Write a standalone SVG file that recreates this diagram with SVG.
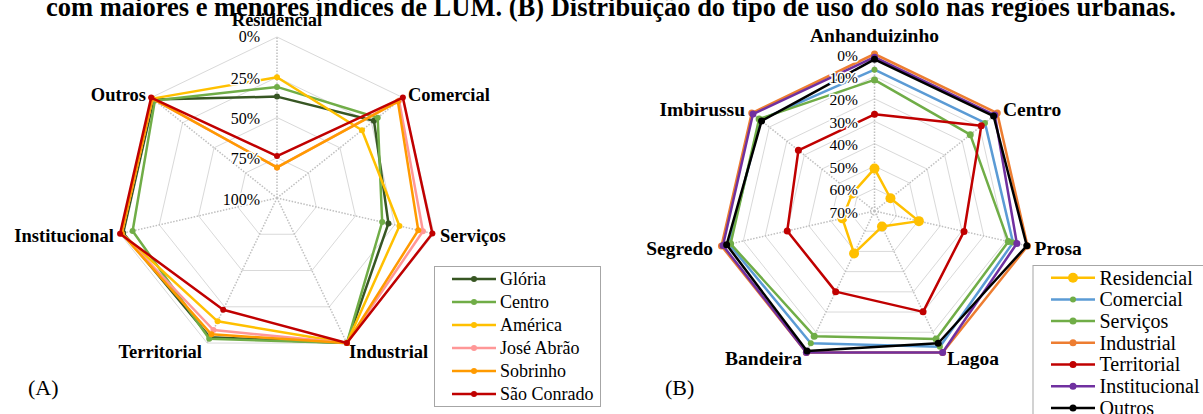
<svg xmlns="http://www.w3.org/2000/svg" width="1203" height="414" viewBox="0 0 1203 414">
<style>
text{font-family:"Liberation Serif","Times New Roman",serif;fill:#000}
.title{font-size:26.5px;font-weight:bold}
.cat{font-size:18.5px;font-weight:bold}
.catB{font-size:19.5px;font-weight:bold}
.tick{font-size:16px;paint-order:stroke;stroke:#fff;stroke-width:3px;stroke-linejoin:round}
.tickB{font-size:15.5px;paint-order:stroke;stroke:#fff;stroke-width:3px;stroke-linejoin:round}
.lgA{font-size:18px}
.lgB{font-size:20px}
.panel{font-size:22px}
.ring{fill:none;stroke:#d9d9d9;stroke-width:1}
.spoke{stroke:#bfbfbf;stroke-width:1.5;stroke-dasharray:1.5 1.5}
.ln{fill:none;stroke-width:2.5;stroke-linejoin:round}
.box{fill:#fff;stroke:#a6a6a6;stroke-width:1}
</style>
<defs>
<marker id="m-gl" viewBox="-6 -6 12 12" markerWidth="12" markerHeight="12" markerUnits="userSpaceOnUse"><circle r="3" fill="#375623"/></marker>
<marker id="m-ce" viewBox="-6 -6 12 12" markerWidth="12" markerHeight="12" markerUnits="userSpaceOnUse"><circle r="3" fill="#70AD47"/></marker>
<marker id="m-am" viewBox="-6 -6 12 12" markerWidth="12" markerHeight="12" markerUnits="userSpaceOnUse"><circle r="3" fill="#FFC000"/></marker>
<marker id="m-ja" viewBox="-6 -6 12 12" markerWidth="12" markerHeight="12" markerUnits="userSpaceOnUse"><circle r="3" fill="#FF9797"/></marker>
<marker id="m-so" viewBox="-6 -6 12 12" markerWidth="12" markerHeight="12" markerUnits="userSpaceOnUse"><circle r="3" fill="#FF9A00"/></marker>
<marker id="m-sc" viewBox="-6 -6 12 12" markerWidth="12" markerHeight="12" markerUnits="userSpaceOnUse"><circle r="3" fill="#C00000"/></marker>
<marker id="m-res" viewBox="-6 -6 12 12" markerWidth="12" markerHeight="12" markerUnits="userSpaceOnUse"><circle r="5" fill="#FFC000"/></marker>
<marker id="m-com" viewBox="-6 -6 12 12" markerWidth="12" markerHeight="12" markerUnits="userSpaceOnUse"><circle r="3" fill="#70AD47"/></marker>
<marker id="m-ser" viewBox="-6 -6 12 12" markerWidth="12" markerHeight="12" markerUnits="userSpaceOnUse"><circle r="3.5" fill="#70AD47"/></marker>
<marker id="m-ind" viewBox="-6 -6 12 12" markerWidth="12" markerHeight="12" markerUnits="userSpaceOnUse"><circle r="3.5" fill="#ED7D31"/></marker>
<marker id="m-ter" viewBox="-6 -6 12 12" markerWidth="12" markerHeight="12" markerUnits="userSpaceOnUse"><circle r="3.5" fill="#C00000"/></marker>
<marker id="m-ins" viewBox="-6 -6 12 12" markerWidth="12" markerHeight="12" markerUnits="userSpaceOnUse"><circle r="3.5" fill="#7030A0"/></marker>
<marker id="m-out" viewBox="-6 -6 12 12" markerWidth="12" markerHeight="12" markerUnits="userSpaceOnUse"><circle r="3.5" fill="#000"/></marker>
</defs>
<rect width="1203" height="414" fill="#fff"/>
<text class="title" x="46" y="15.5">com maiores e menores índices de LUM. (B) Distribuição do tipo de uso do solo nas regiões urbanas.</text>

<!-- Chart A -->
<g id="chartA-grid">
<polygon class="ring" points="277,37 402.87,97.62 433.96,233.83 346.85,343.06 207.15,343.06 120.04,233.83 151.13,97.62"/>
<polygon class="ring" points="277,77.25 371.41,122.71 394.72,224.87 329.39,306.79 224.61,306.79 159.28,224.87 182.59,122.71"/>
<polygon class="ring" points="277,117.5 339.94,147.81 355.48,215.91 311.93,270.53 242.07,270.53 198.52,215.91 214.06,147.81"/>
<polygon class="ring" points="277,157.75 308.47,172.9 316.24,206.96 294.46,234.26 259.54,234.26 237.76,206.96 245.53,172.9"/>
<path class="spoke" d="M277,198L277,37M277,198L402.87,97.62M277,198L433.96,233.83M277,198L346.85,343.06M277,198L207.15,343.06M277,198L120.04,233.83M277,198L151.13,97.62"/>
</g>
<g id="chartA-series">
<polygon class="ln" stroke="#375623" marker-start="url(#m-gl)" marker-mid="url(#m-gl)" points="277,96.6 373.95,120.69 388.43,223.43 346.85,343.06 209.92,337.29 123.16,233.11 153.63,99.61"/>
<polygon class="ln" stroke="#70AD47" marker-start="url(#m-ce)" marker-mid="url(#m-ce)" points="277,86.9 377.7,117.69 382.19,222.01 346.85,343.06 209.23,338.73 132.61,230.96 154.88,100.61"/>
<polygon class="ln" stroke="#FFC000" marker-start="url(#m-am)" marker-mid="url(#m-am)" points="277,77.25 361.98,130.23 399.45,225.95 346.85,343.06 217.6,321.34 121.6,233.47 152.38,98.62"/>
<polygon class="ln" stroke="#FF9797" marker-start="url(#m-ja)" marker-mid="url(#m-ja)" points="277,167.4 399.12,100.61 422.95,231.31 346.85,343.06 213.44,329.99 121.6,233.47 152.38,98.62"/>
<polygon class="ln" stroke="#FF9A00" marker-start="url(#m-so)" marker-mid="url(#m-so)" points="277,167.4 397.87,101.61 418.27,230.24 346.85,343.06 211.35,334.32 121.6,233.47 152.38,98.62"/>
<polygon class="ln" stroke="#C00000" marker-start="url(#m-sc)" marker-mid="url(#m-sc)" points="277,156.1 402.87,97.62 432.4,233.47 346.85,343.06 223.2,309.72 120.04,233.83 151.13,97.62"/>
</g>
<g id="chartA-ticks" text-anchor="end">
<text class="tick" x="260" y="42">0%</text>
<text class="tick" x="260" y="84">25%</text>
<text class="tick" x="260" y="124">50%</text>
<text class="tick" x="260" y="164">75%</text>
<text class="tick" x="260" y="205">100%</text>
</g>
<g id="chartA-labels">
<text class="cat" x="277" y="26" text-anchor="middle">Residencial</text>
<text class="cat" x="408" y="101">Comercial</text>
<text class="cat" x="440" y="242">Serviços</text>
<text class="cat" x="349" y="358">Industrial</text>
<text class="cat" x="202" y="358" text-anchor="end">Territorial</text>
<text class="cat" x="114" y="242" text-anchor="end">Institucional</text>
<text class="cat" x="146" y="101" text-anchor="end">Outros</text>
</g>
<g id="legendA">
<rect class="box" x="434.5" y="266.5" width="166" height="140"/>
<polyline class="ln" stroke="#375623" marker-mid="url(#m-gl)" points="452,279 474,279 496,279"/>
<polyline class="ln" stroke="#70AD47" marker-mid="url(#m-ce)" points="452,302 474,302 496,302"/>
<polyline class="ln" stroke="#FFC000" marker-mid="url(#m-am)" points="452,325 474,325 496,325"/>
<polyline class="ln" stroke="#FF9797" marker-mid="url(#m-ja)" points="452,348 474,348 496,348"/>
<polyline class="ln" stroke="#FF9A00" marker-mid="url(#m-so)" points="452,371 474,371 496,371"/>
<polyline class="ln" stroke="#C00000" marker-mid="url(#m-sc)" points="452,394 474,394 496,394"/>
<text class="lgA" x="500" y="285">Glória</text>
<text class="lgA" x="500" y="308">Centro</text>
<text class="lgA" x="500" y="331">América</text>
<text class="lgA" x="500" y="354">José Abrão</text>
<text class="lgA" x="500" y="377">Sobrinho</text>
<text class="lgA" x="500" y="400">São Conrado</text>
</g>
<text class="panel" x="28" y="395">(A)</text>

<!-- Chart B -->
<g id="chartB-grid">
<polygon class="ring" points="874.5,54 997.25,113.11 1027.56,245.94 942.62,352.45 806.38,352.45 721.44,245.94 751.75,113.11"/>
<polygon class="ring" points="874.5,76.43 979.71,127.1 1005.7,240.94 932.89,332.24 816.11,332.24 743.3,240.94 769.29,127.1"/>
<polygon class="ring" points="874.5,98.86 962.17,141.08 983.83,235.95 923.16,312.03 825.84,312.03 765.17,235.95 786.83,141.08"/>
<polygon class="ring" points="874.5,121.29 944.64,155.07 961.96,230.96 913.42,291.83 835.58,291.83 787.04,230.96 804.36,155.07"/>
<polygon class="ring" points="874.5,143.71 927.11,169.05 940.1,225.97 903.7,271.63 845.3,271.63 808.9,225.97 821.89,169.05"/>
<polygon class="ring" points="874.5,166.14 909.57,183.03 918.24,220.98 893.96,251.42 855.04,251.42 830.76,220.98 839.43,183.03"/>
<polygon class="ring" points="874.5,188.57 892.04,197.02 896.37,215.99 884.23,231.21 864.77,231.21 852.63,215.99 856.96,197.02"/>
<path class="spoke" d="M874.5,211L874.5,54M874.5,211L997.25,113.11M874.5,211L1027.56,245.94M874.5,211L942.62,352.45M874.5,211L806.38,352.45M874.5,211L721.44,245.94M874.5,211L751.75,113.11"/>
<circle cx="874.5" cy="211" r="4" fill="none" stroke="#bfbfbf" stroke-width="1.2" stroke-dasharray="1.5 1.5"/>
</g>
<g id="chartB-series">
<polygon class="ln" stroke="#FFC000" stroke-width="3" marker-start="url(#m-res)" marker-mid="url(#m-res)" points="874.5,168.61 890.46,198.27 918.89,221.13 881.99,226.56 854.06,253.44 842.36,218.34 852.41,193.38"/>
<polygon class="ln" stroke="#5B9BD5" stroke-width="4" marker-start="url(#m-com)" marker-mid="url(#m-com)" points="874.5,69.7 984.97,122.9 1013.03,242.62 939.89,346.79 810.81,343.26 729.09,244.19 760.34,119.96"/>
<polygon class="ln" stroke="#70AD47" marker-start="url(#m-ser)" marker-mid="url(#m-ser)" points="874.5,79.9 970.24,134.65 1008.44,241.57 936.15,339.02 814.21,336.19 730.62,243.84 759.12,118.98"/>
<polygon class="ln" stroke="#ED7D31" stroke-width="3" marker-start="url(#m-ind)" marker-mid="url(#m-ind)" points="874.5,54 997.25,113.11 1027.56,245.94 942.62,352.45 806.38,352.45 721.44,245.94 751.75,113.11"/>
<polygon class="ln" stroke="#C00000" marker-start="url(#m-ter)" marker-mid="url(#m-ter)" points="874.5,114.29 981.29,125.84 964.05,231.44 923.07,311.85 835.67,291.63 787.25,230.91 798.4,150.31"/>
<polygon class="ln" stroke="#7030A0" marker-start="url(#m-ins)" marker-mid="url(#m-ins)" points="874.5,57.14 994.79,115.07 1016.85,243.49 942.62,352.45 806.38,352.45 722.97,245.59 752.98,114.09"/>
<polygon class="ln" stroke="#000" marker-start="url(#m-out)" marker-mid="url(#m-out)" points="874.5,59.34 993.56,116.05 1026.8,245.76 938.19,343.26 807.06,351.04 726.64,244.75 761.57,120.94"/>
</g>
<g id="chartB-ticks" text-anchor="end">
<text class="tickB" x="858" y="60.5">0%</text>
<text class="tickB" x="858" y="82.9">10%</text>
<text class="tickB" x="858" y="105.4">20%</text>
<text class="tickB" x="858" y="127.8">30%</text>
<text class="tickB" x="858" y="150.2">40%</text>
<text class="tickB" x="858" y="172.6">50%</text>
<text class="tickB" x="858" y="195.1">60%</text>
<text class="tickB" x="858" y="217.5">70%</text>
</g>
<g id="chartB-labels">
<text class="catB" x="874.5" y="41.5" text-anchor="middle">Anhanduizinho</text>
<text class="catB" x="1003" y="116">Centro</text>
<text class="catB" x="1034.5" y="254.5">Prosa</text>
<text class="catB" x="947" y="364.5">Lagoa</text>
<text class="catB" x="802" y="364.5" text-anchor="end">Bandeira</text>
<text class="catB" x="713" y="254.5" text-anchor="end">Segredo</text>
<text class="catB" x="745" y="116" text-anchor="end">Imbirussu</text>
</g>
<g id="legendB">
<rect class="box" x="1033" y="265.5" width="180" height="160"/>
<polyline class="ln" stroke="#FFC000" stroke-width="3" marker-mid="url(#m-res)" points="1051,277.7 1073,277.7 1095,277.7"/>
<polyline class="ln" stroke="#5B9BD5" stroke-width="4" marker-mid="url(#m-com)" points="1051,299.4 1073,299.4 1095,299.4"/>
<polyline class="ln" stroke="#70AD47" marker-mid="url(#m-ser)" points="1051,321.1 1073,321.1 1095,321.1"/>
<polyline class="ln" stroke="#ED7D31" stroke-width="3" marker-mid="url(#m-ind)" points="1051,342.8 1073,342.8 1095,342.8"/>
<polyline class="ln" stroke="#C00000" marker-mid="url(#m-ter)" points="1051,364.5 1073,364.5 1095,364.5"/>
<polyline class="ln" stroke="#7030A0" marker-mid="url(#m-ins)" points="1051,386.2 1073,386.2 1095,386.2"/>
<polyline class="ln" stroke="#000" marker-mid="url(#m-out)" points="1051,407.9 1073,407.9 1095,407.9"/>
<text class="lgB" x="1099.5" y="284.5">Residencial</text>
<text class="lgB" x="1099.5" y="306.2">Comercial</text>
<text class="lgB" x="1099.5" y="327.9">Serviços</text>
<text class="lgB" x="1099.5" y="349.6">Industrial</text>
<text class="lgB" x="1099.5" y="371.3">Territorial</text>
<text class="lgB" x="1099.5" y="393">Institucional</text>
<text class="lgB" x="1099.5" y="414.7">Outros</text>
</g>
<text class="panel" x="665" y="395">(B)</text>
</svg>
